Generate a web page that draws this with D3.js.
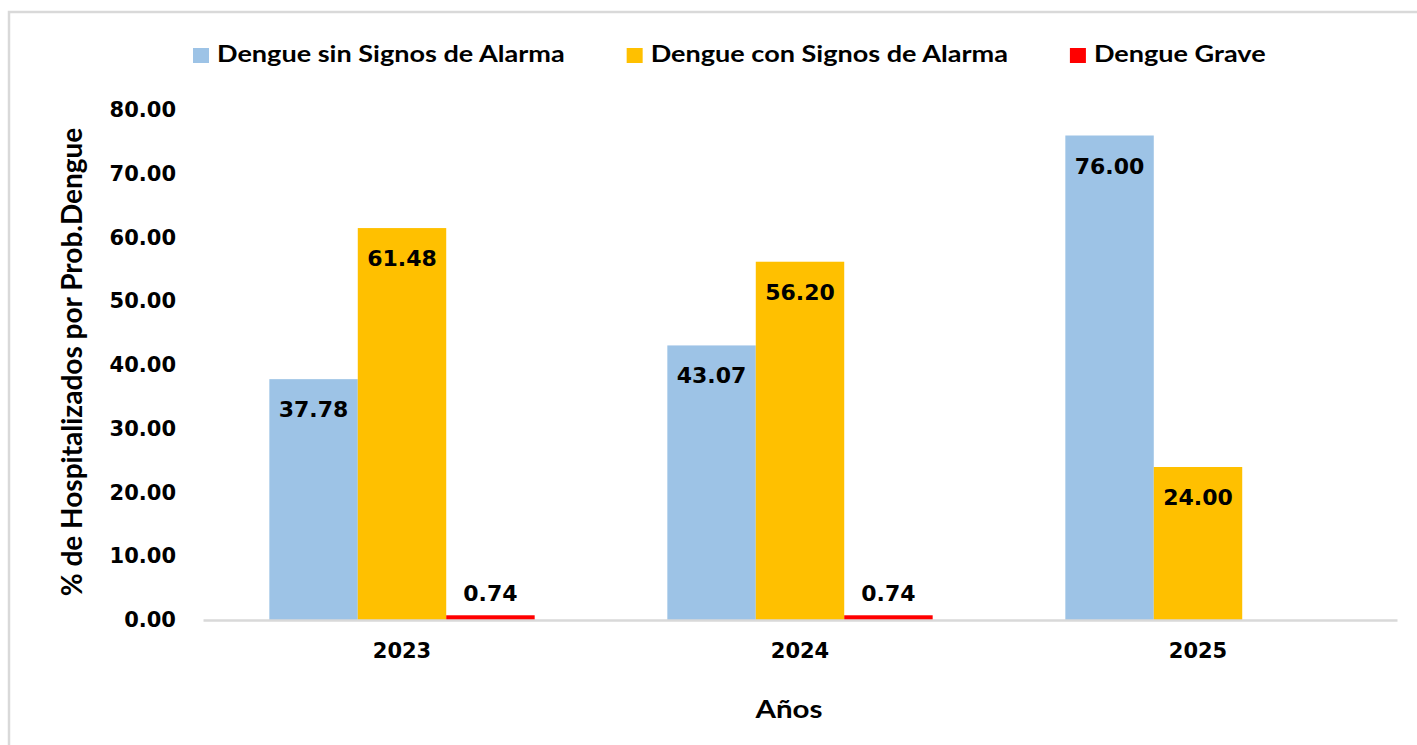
<!DOCTYPE html>
<html>
<head>
<meta charset="utf-8">
<script src="https://cdn.jsdelivr.net/npm/d3@7"></script>
<style>
  body { margin: 0; background: #fff; }
  svg { display: block; }
  .tick text { font-family: "DejaVu Sans", Verdana, sans-serif; font-weight: bold; font-size: 21px; fill: #000; }
  .title { font-family: Lato, sans-serif; font-weight: bold; fill: #000; }
</style>
</head>
<body>
<svg id="chart"></svg>
<script>
// data
const years = ['2023', '2024', '2025'];
const seriesNames = ['Dengue sin Signos de Alarma', 'Dengue con Signos de Alarma', 'Dengue Grave'];
const sinSignos = [37.78, 43.07, 76.00];
const conSignos = [61.48, 56.20, 24.00];
const grave = [0.74, 0.74, null];
const yTicks = [0, 10, 20, 30, 40, 50, 60, 70, 80];

const W = 1417, H = 745;
const plotLeft = 203, plotRight = 1397, plotTop = 110, plotBottom = 620;
const colors = ['#9DC3E6', '#FFC000', '#FF0000'];
const stretch = 1.23; // the source picture is a bit wider than tall

const svg = d3.select('#chart').attr('width', W).attr('height', H);

// outer frame
svg.append('rect')
  .attr('x', 9).attr('y', 12)
  .attr('width', W + 20).attr('height', H + 20)
  .attr('fill', 'none').attr('stroke', '#D9D9D9').attr('stroke-width', 2.5);

const xs = d3.scaleBand().domain(years).range([plotLeft, plotRight]);
const xg = d3.scaleBand().domain(seriesNames).range([xs.bandwidth() / 6, xs.bandwidth() * 5 / 6]);
const ys = d3.scaleLinear().domain([0, 80]).range([plotBottom, plotTop]);
const color = d3.scaleOrdinal().domain(seriesNames).range(colors);

const rows = years.map((y, i) => ({
  year: y,
  values: [sinSignos[i], conSignos[i], grave[i]]
}));

// y axis (labels only)
const yAxis = svg.append('g')
  .attr('transform', `translate(${plotLeft},0)`)
  .call(d3.axisLeft(ys).tickValues(yTicks).tickFormat(d3.format('.2f')).tickSize(0).tickPadding(27));
yAxis.select('.domain').remove();

// bars
const groups = svg.selectAll('.year-group').data(rows).enter()
  .append('g').attr('class', 'year-group')
  .attr('transform', d => `translate(${xs(d.year)},0)`);

const cells = groups.selectAll('.cell')
  .data(d => seriesNames.map((k, i) => ({ key: k, value: d.values[i] })).filter(c => c.value != null))
  .enter().append('g').attr('class', 'cell');

cells.append('rect')
  .attr('x', d => xg(d.key))
  .attr('y', d => ys(d.value))
  .attr('width', xg.bandwidth())
  .attr('height', d => plotBottom - ys(d.value))
  .attr('fill', d => color(d.key));

cells.append('text')
  .attr('x', d => xg(d.key) + xg.bandwidth() / 2)
  .attr('y', d => plotBottom - ys(d.value) > 40 ? ys(d.value) + 38 : ys(d.value) - 14)
  .attr('text-anchor', 'middle')
  .style('font-family', '"DejaVu Sans", Verdana, sans-serif')
  .style('font-weight', 'bold')
  .style('font-size', '22px')
  .text(d => d3.format('.2f')(d.value));

// x axis
const xAxis = svg.append('g')
  .attr('transform', `translate(0,${plotBottom})`)
  .call(d3.axisBottom(xs).tickSize(0).tickPadding(23));
xAxis.select('.domain').attr('stroke', '#D9D9D9').attr('stroke-width', 2.5);

// axis titles
svg.append('text')
  .attr('class', 'title')
  .attr('transform', `translate(82,362) rotate(-90)`)
  .attr('text-anchor', 'middle')
  .style('font-size', '28px')
  .text('% de Hospitalizados  por Prob.Dengue');

svg.append('text')
  .attr('class', 'title')
  .attr('transform', `translate(789,718) scale(${stretch},1)`)
  .attr('text-anchor', 'middle')
  .style('font-size', '24px')
  .text('Años');

// legend, laid out left to right
const legend = svg.append('g').attr('transform', 'translate(193,48)');
let lx = 0;
seriesNames.forEach(name => {
  const item = legend.append('g').attr('transform', `translate(${lx},0)`);
  item.append('rect').attr('width', 16).attr('height', 15).attr('fill', color(name));
  const t = item.append('text')
    .attr('class', 'title')
    .attr('transform', `translate(24,14) scale(${stretch},1)`)
    .style('font-size', '22px')
    .text(name);
  lx += 24 + t.node().getComputedTextLength() * stretch + 62;
});
</script>
</body>
</html>
